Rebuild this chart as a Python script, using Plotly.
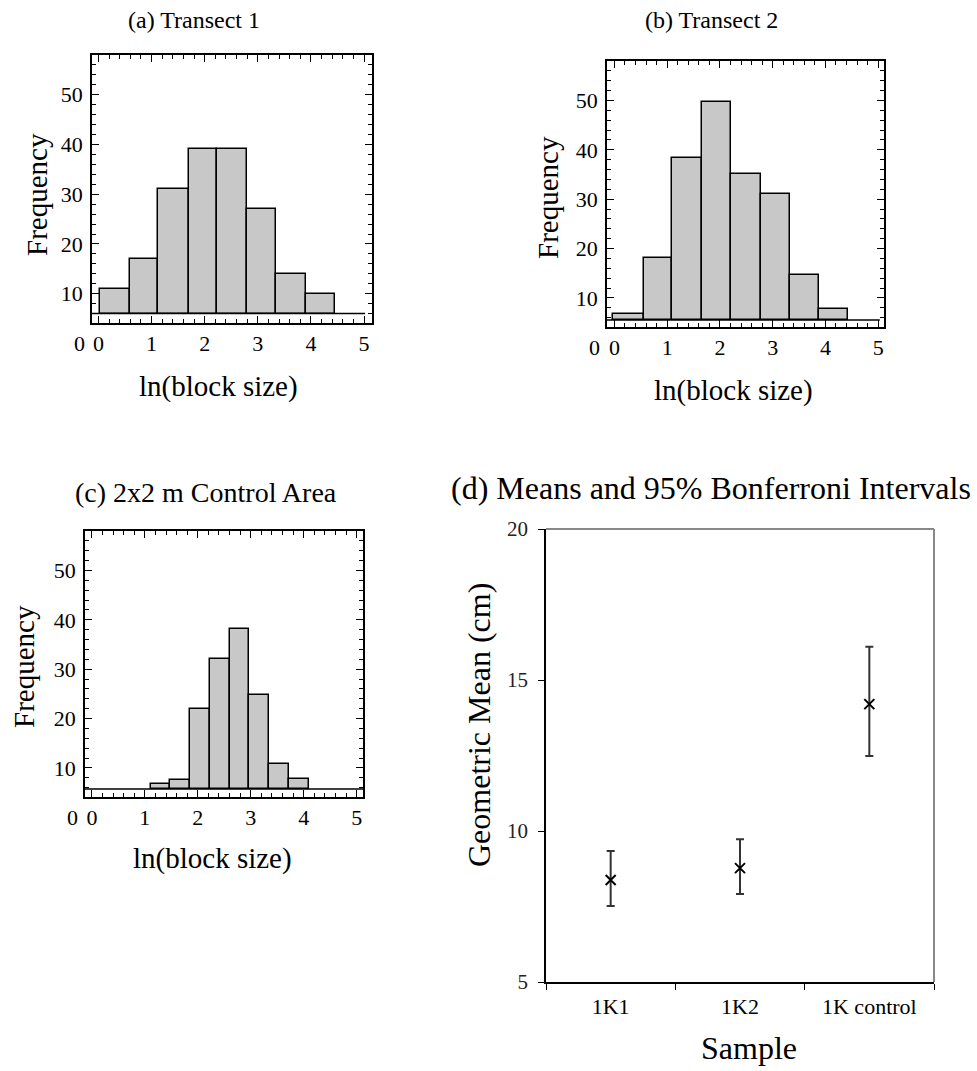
import plotly.graph_objects as go

# ---------------- data ----------------
# (a) Transect 1 histogram: bin edges (ln block size) and bar tops (frequency)
A_EDGES = [0.03, 0.59, 1.12, 1.71, 2.23, 2.80, 3.34, 3.91, 4.45]
A_FREQ = [11, 17, 31, 39, 39, 27, 14, 10]
A_BASE = 6.0
A_LINE_END = 5.02

# (b) Transect 2
B_EDGES = [-0.02, 0.56, 1.09, 1.66, 2.21, 2.78, 3.33, 3.88, 4.43]
B_FREQ = [6.8, 18, 38.4, 49.6, 35.2, 31, 14.7, 7.8]
B_BASE = 5.5
B_LINE_END = 5.03

# (c) 2x2 m Control Area
C_EDGES = [1.12, 1.48, 1.85, 2.23, 2.61, 2.97, 3.35, 3.72, 4.10]
C_FREQ = [6.8, 7.6, 22, 32, 38.2, 24.8, 10.8, 7.8]
C_BASE = 5.7
C_LINE_END = 5.12

X_TICKS = [0, 1, 2, 3, 4, 5]
Y_TICKS = [10, 20, 30, 40, 50]
Y_ORIGIN_LABEL = 0
Y_RANGE = [4.1, 58]

# (d) Means and 95% Bonferroni intervals
SAMPLES = ["1K1", "1K2", "1K control"]
MEANS = [8.38, 8.77, 14.2]
UPPER = [9.34, 9.73, 16.1]
LOWER = [7.52, 7.91, 12.48]
D_Y_TICKS = [5, 10, 15, 20]

FONT = "Liberation Serif"
W, H = 977, 1071


def px_x(p):
    return p / W


def px_y(p):
    return 1 - p / H


fig = go.Figure()

hist_specs = [
    ("x", "y", A_EDGES, A_FREQ, A_BASE, A_LINE_END, [92, 372], [55, 323], [-0.12, 5.15]),
    ("x2", "y2", B_EDGES, B_FREQ, B_BASE, B_LINE_END, [607, 884], [61, 327], [-0.14, 5.11]),
    ("x3", "y3", C_EDGES, C_FREQ, C_BASE, C_LINE_END, [85, 363], [531, 797], [-0.13, 5.12]),
]

shapes = []
annotations = []

for i, (xr, yr, edges, freq, base, line_end, pxx, pxy, xrange_) in enumerate(hist_specs):
    centers = [(edges[k] + edges[k + 1]) / 2 for k in range(len(freq))]
    widths = [edges[k + 1] - edges[k] for k in range(len(freq))]
    heights = [f - base for f in freq]
    fig.add_trace(go.Bar(
        x=centers, y=heights, base=base, width=widths,
        marker=dict(color="#c8c8c8", line=dict(color="black", width=1.5)),
        xaxis=xr, yaxis=yr, showlegend=False,
    ))
    # baseline (Mathematica axis line at bar origin)
    shapes.append(dict(type="line", xref=xr, yref=yr, x0=xrange_[0], x1=line_end,
                       y0=base, y1=base, line=dict(color="black", width=1.5), layer="above"))
    suffix = "" if i == 0 else str(i + 1)
    common = dict(
        showline=True, linecolor="black", linewidth=1.8, mirror="ticks",
        ticks="inside", ticklen=7, tickwidth=1.3, tickcolor="black",
        showgrid=False, zeroline=False, automargin=False,
        tickfont=dict(family=FONT, size=22, color="black"),
    )
    fig.layout["xaxis" + suffix] = dict(
        common, domain=[px_x(pxx[0]), px_x(pxx[1])], range=xrange_,
        tickmode="array", tickvals=X_TICKS, anchor=yr, ticklabelstandoff=0,
        minor=dict(dtick=0.2, tick0=0, ticks="inside", ticklen=4, tickwidth=1, tickcolor="black"),
    )
    fig.layout["yaxis" + suffix] = dict(
        common, domain=[px_y(pxy[1]), px_y(pxy[0])], range=Y_RANGE,
        tickmode="array", tickvals=Y_TICKS, anchor=xr, ticklabelstandoff=3,
        minor=dict(dtick=2, tick0=0, ticks="inside", ticklen=4, tickwidth=1, tickcolor="black"),
    )
    # the y-axis "0" label that sits below the frame (position from the axis range)
    y_frac = (Y_ORIGIN_LABEL - Y_RANGE[0]) / (Y_RANGE[1] - Y_RANGE[0])
    annotations.append(dict(text=str(Y_ORIGIN_LABEL), xref=xr + " domain", yref=yr + " domain",
                            x=0, y=y_frac, xanchor="right", yanchor="middle", xshift=-5,
                            showarrow=False, font=dict(family=FONT, size=22, color="black")))

# (d)
fig.add_trace(go.Scatter(
    x=SAMPLES, y=MEANS, mode="markers",
    marker=dict(symbol="x-thin", size=10, line=dict(width=2, color="black"), color="black"),
    error_y=dict(type="data", symmetric=False,
                 array=[u - m for u, m in zip(UPPER, MEANS)],
                 arrayminus=[m - l for m, l in zip(MEANS, LOWER)],
                 color="#333333", thickness=2, width=4),
    xaxis="x4", yaxis="y4", showlegend=False,
))
fig.layout["xaxis4"] = dict(
    domain=[px_x(546), px_x(934)], anchor="y4", type="category",
    categoryorder="array", categoryarray=SAMPLES, range=[-0.5, 2.5],
    showline=True, linecolor="black", linewidth=1.5, ticks="outside", tickson="boundaries",
    ticklen=6, tickcolor="black", tickwidth=1.2, showgrid=False, zeroline=False,
    automargin=False,
    tickfont=dict(family=FONT, size=22, color="black"), ticklabelstandoff=4,
)
fig.layout["yaxis4"] = dict(
    domain=[px_y(982), px_y(529)], anchor="x4", range=[5, 20],
    tickmode="array", tickvals=D_Y_TICKS, automargin=False,
    showline=True, linecolor="black", linewidth=1.5, ticks="outside",
    ticklen=6, tickcolor="black", tickwidth=1.2, showgrid=False, zeroline=False,
    tickfont=dict(family=FONT, size=21, color="#222222"), ticklabelstandoff=6,
)
shapes.append(dict(type="line", xref="x4 domain", yref="y4 domain", x0=0, x1=1, y0=1, y1=1,
                   line=dict(color="#888888", width=2)))
shapes.append(dict(type="line", xref="x4 domain", yref="y4 domain", x0=1, x1=1, y0=0, y1=1,
                   line=dict(color="#888888", width=2)))


def label(text, x, y, size, angle=0):
    annotations.append(dict(text=text, xref="paper", yref="paper", x=px_x(x), y=px_y(y),
                            xanchor="center", yanchor="middle", textangle=angle,
                            showarrow=False, font=dict(family=FONT, size=size, color="black")))


label("(a) Transect 1", 194, 20, 24)
label("(b) Transect 2", 711, 20, 24)
label("(c) 2x2 m Control Area", 206, 493, 28)
label("(d) Means and 95% Bonferroni Intervals", 711, 488, 32)
label("Frequency", 37, 195, 29, -90)
label("Frequency", 548, 198, 29, -90)
label("Frequency", 24, 667, 29, -90)
label("ln(block size)", 218, 386, 29)
label("ln(block size)", 733, 390, 29)
label("ln(block size)", 212, 858, 29)
label("Geometric Mean (cm)", 479, 725, 32, -90)
label("Sample", 749, 1048, 32)

fig.update_layout(
    width=W, height=H, margin=dict(l=0, r=0, t=0, b=0, autoexpand=False),
    paper_bgcolor="white", plot_bgcolor="white", showlegend=False,
    bargap=0, shapes=shapes, annotations=annotations,
)

fig.write_html(
    "out.html",
    config={"displayModeBar": False},
    post_script="document.body.style.margin='0';document.body.style.overflow='hidden';",
)
